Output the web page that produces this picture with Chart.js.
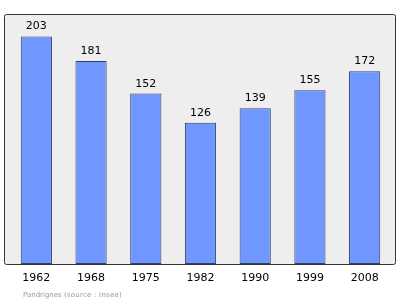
<!DOCTYPE html>
<html>
<head>
<meta charset="utf-8">
<script src="https://cdn.jsdelivr.net/npm/chart.js@4/dist/chart.umd.min.js"></script>
<style>
  html, body { margin: 0; padding: 0; background: #fff; }
  #wrap { width: 400px; height: 299px; }
</style>
</head>
<body>
<div id="wrap"><canvas id="chart" width="400" height="299"></canvas></div>
<script>
// population data
const years = ["1962", "1968", "1975", "1982", "1990", "1999", "2008"];
const population = [203, 181, 152, 126, 139, 155, 172];
const footerName = "Pandrignes";
const footerSource = "(source : Insee)";

// frame behind the plot area
const framePlugin = {
   id: "frame",
   beforeDraw: (chart) => {
      const { ctx, chartArea } = chart;
      const x = chartArea.left - 5;
      const y = chartArea.top + 0.5;
      const w = chartArea.right - chartArea.left + 8;
      const h = chartArea.bottom - chartArea.top;
      ctx.save();
      ctx.beginPath();
      ctx.roundRect(x + 0.5, y, w, h, 2);
      ctx.fillStyle = "#eeeeee";
      ctx.fill();
      ctx.lineWidth = 1;
      ctx.strokeStyle = "#333333";
      ctx.stroke();
      ctx.restore();
   },
};

// draw text stretched with letter spacing to a given width
const fitText = (ctx, text, x, y, width) => {
   ctx.letterSpacing = "0px";
   const measured = ctx.measureText(text).width;
   const spacing = Math.max(0, (width - measured) / text.length);
   ctx.letterSpacing = spacing + "px";
   ctx.fillText(text, x, y);
};

// numbers above bars + footer text
const labelsPlugin = {
   id: "valueLabels",
   afterDatasetsDraw: (chart) => {
      const { ctx } = chart;
      const meta = chart.getDatasetMeta(0);
      ctx.save();
      ctx.font = "11px 'DejaVu Sans'";
      ctx.fillStyle = "#000";
      ctx.textAlign = "center";
      ctx.textBaseline = "alphabetic";
      meta.data.forEach((bar, i) => {
         ctx.fillText(population[i], bar.x, bar.y - 7);
      });

      ctx.font = "7px 'DejaVu Sans'";
      ctx.fillStyle = "#999999";
      ctx.textAlign = "left";
      fitText(ctx, footerName, 23, 297, 38);
      fitText(ctx, footerSource, 64, 297, 58);
      ctx.restore();
   },
};

const data = {
   labels: years,
   datasets: [
      {
         data: population,
         backgroundColor: "#7096ff",
         borderColor: "#34406a",
         borderWidth: 1,
         borderSkipped: false,
         barPercentage: 0.57,
         categoryPercentage: 1,
      },
   ],
};

const config = {
   type: "bar",
   data: data,
   options: {
      responsive: false,
      animation: false,
      layout: { padding: { left: 9, right: 8, top: 14, bottom: 0 } },
      plugins: {
         legend: { display: false },
         tooltip: { enabled: false },
      },
      scales: {
         x: {
            offset: true,
            grid: { display: false, drawTicks: false },
            border: { display: false },
            ticks: {
               color: "#000",
               padding: 8,
               font: { family: "DejaVu Sans", size: 11 },
            },
            afterFit: (scale) => {
               scale.height = 35;
            },
         },
         y: {
            display: false,
            min: 0,
            max: 223,
         },
      },
   },
   plugins: [framePlugin, labelsPlugin],
};

const myChart = new Chart(document.getElementById("chart"), config);
</script>
</body>
</html>
